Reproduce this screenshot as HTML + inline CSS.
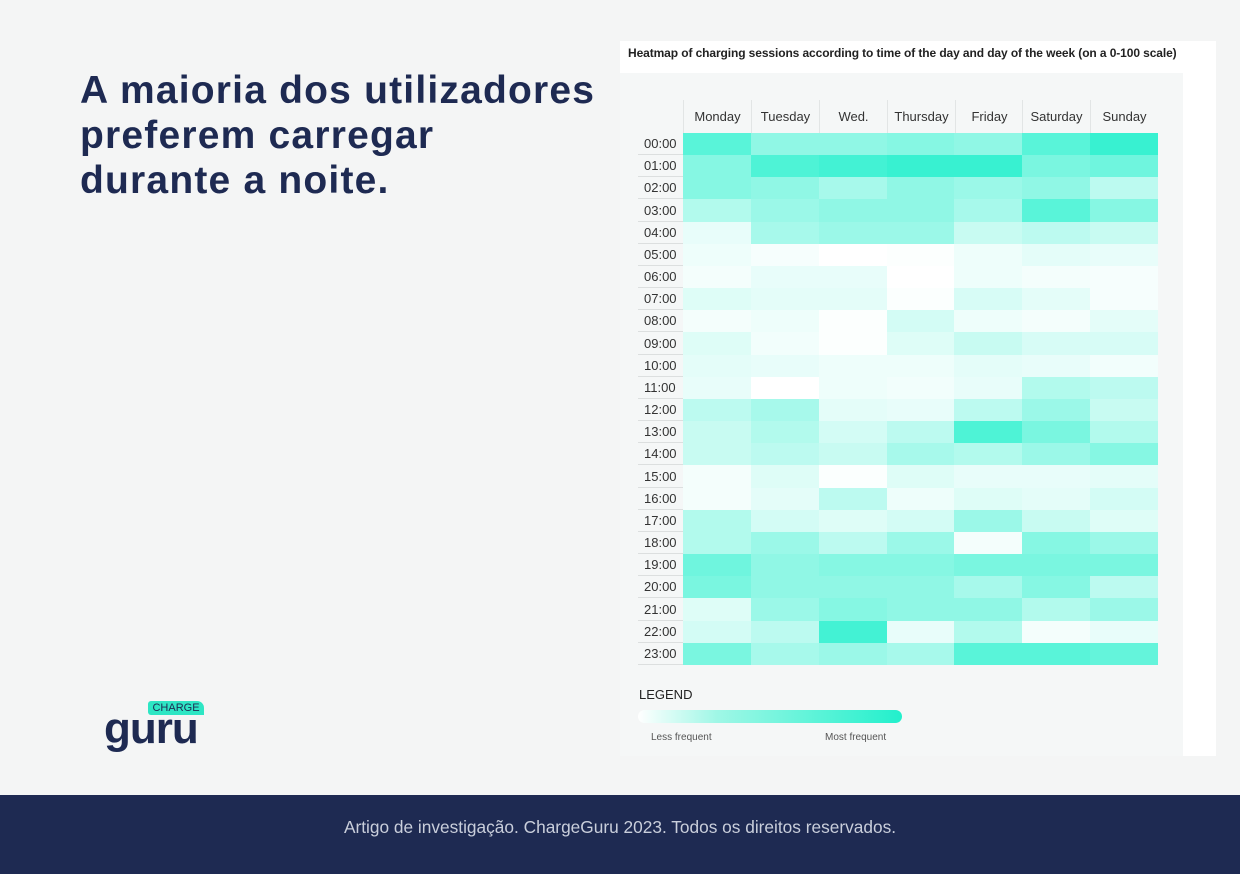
<!DOCTYPE html>
<html><head><meta charset="utf-8"><style>
*{margin:0;padding:0;box-sizing:border-box}
body{width:1240px;height:874px;background:#f4f5f5;position:relative;overflow:hidden;font-family:"Liberation Sans",sans-serif}
h1{position:absolute;left:80px;top:68px;font-size:39px;line-height:45px;font-weight:700;color:#1e2a52;letter-spacing:1.2px}
.footer{position:absolute;left:0;top:795px;width:1240px;height:79px;background:#1e2a52;color:#c9cedb;font-size:17.3px;text-align:center;line-height:64px}
.panel{position:absolute;left:620px;top:41px;width:596px;height:715px;background:#fff}
.inner{position:absolute;left:620px;top:73px;width:563px;height:683px;background:#f5f7f7}
.ttl{position:absolute;left:628px;top:46px;font-size:12px;font-weight:700;color:#222;letter-spacing:-0.1px}
.hd{position:absolute;top:100px;height:33px;width:68px;text-align:center;line-height:33px;font-size:13px;color:#333;border-left:1px solid #e2e5e5}
.rl{position:absolute;left:638px;width:45px;height:22.17px;font-size:13px;color:#333;line-height:22px;padding-left:6px;border-bottom:1px solid #dcdfdf}
.grid{position:absolute;left:683px;top:133px;width:475px;height:532px;background:#fff;display:grid;grid-template-columns:repeat(7,1fr);grid-template-rows:repeat(24,1fr)}
.grid div{background:rgba(34,240,204,var(--v))}
.leg{position:absolute;left:639px;top:687px;font-size:13px;color:#222}
.bar{position:absolute;left:638px;top:710px;width:264px;height:13px;border-radius:7px;background:linear-gradient(90deg,#fff,#9ff7e6 30%,#22f0cc)}
.lab{position:absolute;top:732px;font-size:10px;color:#555}
</style></head><body>
<h1>A maioria dos utilizadores<br>preferem carregar<br>durante a noite.</h1>
<div class="panel"></div><div class="inner"></div>
<div class="ttl">Heatmap of charging sessions according to time of the day and day of the week (on a 0-100 scale)</div>
<div class="hd" style="left:683px">Monday</div><div class="hd" style="left:751px">Tuesday</div><div class="hd" style="left:819px">Wed.</div><div class="hd" style="left:887px">Thursday</div><div class="hd" style="left:955px">Friday</div><div class="hd" style="left:1022px">Saturday</div><div class="hd" style="left:1090px">Sunday</div>
<div class="rl" style="top:133px">00:00</div><div class="rl" style="top:155.2px">01:00</div><div class="rl" style="top:177.3px">02:00</div><div class="rl" style="top:199.5px">03:00</div><div class="rl" style="top:221.7px">04:00</div><div class="rl" style="top:243.8px">05:00</div><div class="rl" style="top:266px">06:00</div><div class="rl" style="top:288.2px">07:00</div><div class="rl" style="top:310.3px">08:00</div><div class="rl" style="top:332.5px">09:00</div><div class="rl" style="top:354.7px">10:00</div><div class="rl" style="top:376.8px">11:00</div><div class="rl" style="top:399px">12:00</div><div class="rl" style="top:421.2px">13:00</div><div class="rl" style="top:443.3px">14:00</div><div class="rl" style="top:465.5px">15:00</div><div class="rl" style="top:487.7px">16:00</div><div class="rl" style="top:509.8px">17:00</div><div class="rl" style="top:532px">18:00</div><div class="rl" style="top:554.2px">19:00</div><div class="rl" style="top:576.3px">20:00</div><div class="rl" style="top:598.5px">21:00</div><div class="rl" style="top:620.7px">22:00</div><div class="rl" style="top:642.8px">23:00</div>
<div class="grid">
<div style="--v:.75"></div><div style="--v:.5"></div><div style="--v:.5"></div><div style="--v:.55"></div><div style="--v:.5"></div><div style="--v:.75"></div><div style="--v:.9"></div>
<div style="--v:.55"></div><div style="--v:.8"></div><div style="--v:.85"></div><div style="--v:.9"></div><div style="--v:.9"></div><div style="--v:.6"></div><div style="--v:.65"></div>
<div style="--v:.55"></div><div style="--v:.5"></div><div style="--v:.4"></div><div style="--v:.5"></div><div style="--v:.45"></div><div style="--v:.5"></div><div style="--v:.3"></div>
<div style="--v:.35"></div><div style="--v:.45"></div><div style="--v:.5"></div><div style="--v:.5"></div><div style="--v:.4"></div><div style="--v:.75"></div><div style="--v:.55"></div>
<div style="--v:.1"></div><div style="--v:.4"></div><div style="--v:.45"></div><div style="--v:.45"></div><div style="--v:.25"></div><div style="--v:.3"></div><div style="--v:.25"></div>
<div style="--v:.08"></div><div style="--v:.04"></div><div style="--v:0"></div><div style="--v:.01"></div><div style="--v:.08"></div><div style="--v:.12"></div><div style="--v:.1"></div>
<div style="--v:.05"></div><div style="--v:.1"></div><div style="--v:.1"></div><div style="--v:0"></div><div style="--v:.08"></div><div style="--v:.05"></div><div style="--v:.04"></div>
<div style="--v:.15"></div><div style="--v:.12"></div><div style="--v:.12"></div><div style="--v:.02"></div><div style="--v:.18"></div><div style="--v:.12"></div><div style="--v:.04"></div>
<div style="--v:.05"></div><div style="--v:.08"></div><div style="--v:.01"></div><div style="--v:.2"></div><div style="--v:.08"></div><div style="--v:.05"></div><div style="--v:.12"></div>
<div style="--v:.15"></div><div style="--v:.06"></div><div style="--v:.01"></div><div style="--v:.15"></div><div style="--v:.25"></div><div style="--v:.18"></div><div style="--v:.18"></div>
<div style="--v:.12"></div><div style="--v:.1"></div><div style="--v:.08"></div><div style="--v:.08"></div><div style="--v:.12"></div><div style="--v:.1"></div><div style="--v:.06"></div>
<div style="--v:.1"></div><div style="--v:0"></div><div style="--v:.08"></div><div style="--v:.06"></div><div style="--v:.1"></div><div style="--v:.35"></div><div style="--v:.3"></div>
<div style="--v:.3"></div><div style="--v:.4"></div><div style="--v:.12"></div><div style="--v:.1"></div><div style="--v:.3"></div><div style="--v:.45"></div><div style="--v:.25"></div>
<div style="--v:.25"></div><div style="--v:.35"></div><div style="--v:.2"></div><div style="--v:.3"></div><div style="--v:.8"></div><div style="--v:.6"></div><div style="--v:.35"></div>
<div style="--v:.25"></div><div style="--v:.3"></div><div style="--v:.25"></div><div style="--v:.4"></div><div style="--v:.35"></div><div style="--v:.45"></div><div style="--v:.55"></div>
<div style="--v:.05"></div><div style="--v:.15"></div><div style="--v:.02"></div><div style="--v:.15"></div><div style="--v:.1"></div><div style="--v:.1"></div><div style="--v:.12"></div>
<div style="--v:.05"></div><div style="--v:.12"></div><div style="--v:.3"></div><div style="--v:.08"></div><div style="--v:.15"></div><div style="--v:.12"></div><div style="--v:.2"></div>
<div style="--v:.35"></div><div style="--v:.2"></div><div style="--v:.15"></div><div style="--v:.2"></div><div style="--v:.45"></div><div style="--v:.25"></div><div style="--v:.15"></div>
<div style="--v:.35"></div><div style="--v:.45"></div><div style="--v:.3"></div><div style="--v:.45"></div><div style="--v:.05"></div><div style="--v:.55"></div><div style="--v:.45"></div>
<div style="--v:.65"></div><div style="--v:.5"></div><div style="--v:.55"></div><div style="--v:.55"></div><div style="--v:.6"></div><div style="--v:.6"></div><div style="--v:.6"></div>
<div style="--v:.6"></div><div style="--v:.5"></div><div style="--v:.5"></div><div style="--v:.5"></div><div style="--v:.4"></div><div style="--v:.55"></div><div style="--v:.3"></div>
<div style="--v:.15"></div><div style="--v:.45"></div><div style="--v:.55"></div><div style="--v:.5"></div><div style="--v:.5"></div><div style="--v:.35"></div><div style="--v:.45"></div>
<div style="--v:.2"></div><div style="--v:.3"></div><div style="--v:.85"></div><div style="--v:.1"></div><div style="--v:.35"></div><div style="--v:.05"></div><div style="--v:.1"></div>
<div style="--v:.6"></div><div style="--v:.4"></div><div style="--v:.45"></div><div style="--v:.4"></div><div style="--v:.75"></div><div style="--v:.75"></div><div style="--v:.7"></div>
</div>
<div class="leg">LEGEND</div>
<div class="bar"></div>
<div class="lab" style="left:651px">Less frequent</div>
<div class="lab" style="left:825px">Most frequent</div>
<div style="position:absolute;left:148px;top:701px;width:56px;height:14px;background:#2ee6c4;border-radius:3px 7px 0 3px;font-size:11px;color:#1e2a52;text-align:center;line-height:14px">CHARGE</div>
<div style="position:absolute;left:104px;top:704px;font-size:44px;font-weight:700;color:#1e2a52;letter-spacing:-1px;line-height:50px">guru</div>
<div class="footer">Artigo de investigação. ChargeGuru 2023. Todos os direitos reservados.</div>
</body></html>
